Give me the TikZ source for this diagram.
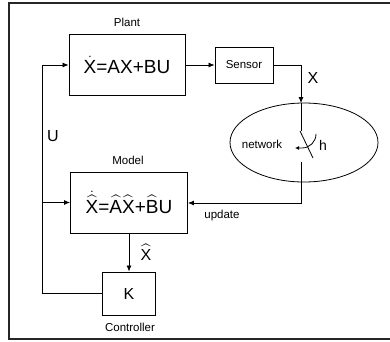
\documentclass[tikz,border=0pt]{standalone}
\usepackage{amsmath}
\usepackage{fontspec}
\setmainfont{Liberation Sans}
\usetikzlibrary{arrows.meta,shapes.geometric}
\begin{document}
\begin{tikzpicture}[x=1pt,y=-1pt,
  line width=0.8pt,
  box/.style={draw,rectangle,inner sep=0pt,line width=0.9pt},
  lbl/.style={inner sep=0pt,font=\fontsize{11.5}{13}\selectfont},
  big/.style={inner sep=0pt,font=\fontsize{16}{18}\selectfont},
  eq/.style={font=\fontsize{19}{22}\selectfont},
  arr/.style={-{Latex[length=6pt,width=5pt]}}]
\useasboundingbox (0,0) rectangle (390,341);
\draw[line width=2.2pt,black!85] (395,3) -- (9,3) -- (9,339) -- (395,339);
% nodes
\node[box,minimum width=116pt,minimum height=61pt,eq] (plant) at (127,65) {$\dot{\text{X}}$=AX+BU};
\node[box,minimum width=58pt,minimum height=36pt,lbl,inner sep=0pt] (sensor) at (244,65) {Sensor};
\node[draw,ellipse,minimum width=148pt,minimum height=79pt,inner sep=0pt,line width=0.8pt] (net) at (304,142.5) {};
\node[box,minimum width=117pt,minimum height=61pt,eq] (model) at (129,202.5) {$\dot{\widehat{\text{X}}}$=$\widehat{\text{A}}\widehat{\text{X}}$+$\widehat{\text{B}}$U};
\node[box,minimum width=53pt,minimum height=43pt,big] (ctrl) at (129,293.5) {K};
% labels
\node[lbl] (lplant) at (127,22) {Plant};
\node[lbl] (lmodel) at (128,160) {Model};
\node[lbl] (lctrl) at (130,327) {Controller};
\node[lbl] (lnet) at (262,144) {network};
\node[lbl] (lupd) at (222,216) {update};
\node[big] (lx) at (313,78) {X};
\node[big] (lu) at (53,136) {U};
\node[inner sep=0pt,font=\fontsize{14}{16}\selectfont] (lh) at (323,145) {h};
\node[big] (lxh) at (146,252) {$\widehat{\text{X}}$};
% coordinates
\coordinate (swtop) at (301,103);
\coordinate (sw1) at (301,131);
\coordinate (sw2) at (301,162);
\coordinate (sw3) at (301,203);
\coordinate (fbx) at (42,293.5);
\coordinate (fbtop) at (42,65);
\coordinate (fbmid) at (42,202.5);
% connectors
\draw[arr] (plant.east) -- (sensor.west);
\draw[arr] (sensor.east) -| (swtop);
\draw (swtop) -- (sw1);
\draw (300,131) -- (313,158);
\draw[arr,-{Latex[length=4pt,width=4pt]}] (316,134) to[out=-90,in=0] (302,148) -- (295,148);
\draw[arr] (sw2) -- (sw3) -- (model.east |- sw3);
\draw (ctrl.west) -- (fbx) -- (fbtop);
\draw[arr] (fbtop) -- (plant.west);
\draw[arr] (fbmid) -- (model.west);
\draw[arr] (model.south) -- (ctrl.north);
\end{tikzpicture}
\end{document}
